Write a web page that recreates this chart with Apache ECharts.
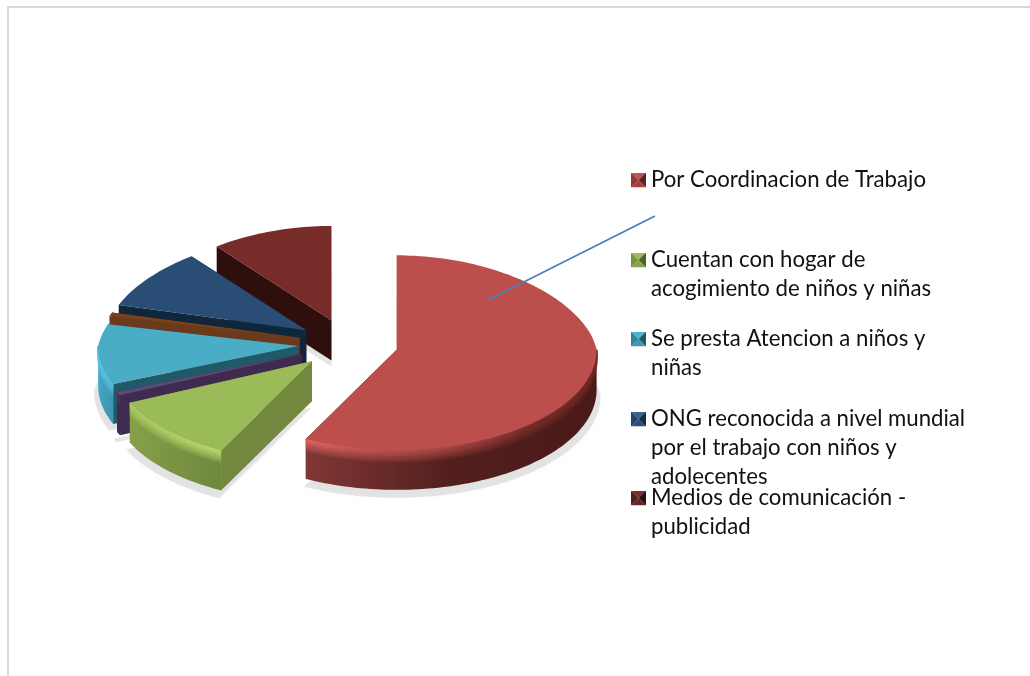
<!DOCTYPE html>
<html>
<head>
<meta charset="utf-8">
<style>
html, body { margin: 0; padding: 0; background: #fff; }
#chart { width: 1030px; height: 676px; }
</style>
</head>
<body>
<div id="chart"></div>
<script src="https://cdn.jsdelivr.net/npm/echarts@6/dist/echarts.min.js"></script>
<script>
// slices clockwise from 12 o'clock, two thin ones have no legend entry
const sliceNames = ['Por Coordinacion de Trabajo', 'Cuentan con hogar de acogimiento de niños y niñas', 'Sin etiqueta 1', 'Se presta Atencion a niños y niñas', 'Sin etiqueta 2', 'ONG reconocida a nivel mundial por el trabajo con niños y adolecentes', 'Medios de comunicación - publicidad'];
const sliceValues = [57.5, 10.7, 0.6, 9.9, 0.6, 10, 10.7];

const topColors = ['#bc4f4c', '#9bbb59', '#5f497a', '#4bacc6', '#7a4219', '#2a4d76', '#772c2a'];
const cutColors = ['#4a1a18', '#72883f', '#3f2a50', '#215968', '#6b3a1d', '#10263a', '#2f0f0e'];
const wallColors = [
    ['#803735', '#521f1d', '#4a1a18'],
    ['#86a04a', '#7a9343', '#70883d'],
    ['#3f2a50', '#3f2a50', '#3f2a50'],
    ['#45a8c8', '#3f9cb8', '#3b94ae'],
    ['#6b3a1d', '#6b3a1d', '#6b3a1d'],
    ['#10263a', '#10263a', '#10263a'],
    ['#2f0f0e', '#2f0f0e', '#2f0f0e']
];
const rimColors = [
    ['#e06666', '#c05250', '#a84644', '#7a2e2c', '#6a2624'],
    ['#a8c860', '#b4d268', '#bcdb70'],
    ['#4a3560', '#4a3560', '#4a3560'],
    ['#55c5e8', '#52c0e2', '#4fbad8'],
    ['#7a4219', '#7a4219', '#7a4219'],
    ['#2a4d76', '#2a4d76', '#2a4d76'],
    ['#772c2a', '#772c2a', '#772c2a']
];

const legendNames = [sliceNames[0], sliceNames[1], sliceNames[3], sliceNames[5], sliceNames[6]];
const legendLines = [
    ['Por Coordinacion de Trabajo'],
    ['Cuentan con hogar de', 'acogimiento de niños y niñas'],
    ['Se presta Atencion a niños y', 'niñas'],
    ['ONG reconocida a nivel mundial', 'por el trabajo con niños y', 'adolecentes'],
    ['Medios de comunicación -', 'publicidad']
];
// top, right, bottom, left triangle of the bevelled key
const legendKeys = [
    ['#c5514f', '#5c2321', '#a5403d', '#8f3b39'],
    ['#9bbb59', '#4f6329', '#86a54b', '#76933f'],
    ['#4bb4cf', '#215968', '#3f98b0', '#338399'],
    ['#3a6291', '#142c44', '#2c4f78', '#24426a'],
    ['#7a2e2c', '#2f0f0e', '#642624', '#541e1c']
];
const legendCenters = [180, 260, 339, 419, 498];

// stray leader line on the picture, in pie units
const leaderLine = [[0.7, 0.44], [1.535, 1.28]];

const explode = 0.25;
const depth = 0.4;
const backSquash = 0.945;
const backNarrow = 0.1;
const lineHeight = 29;

const total = sliceValues.reduce((a, b) => a + b, 0);
let acc = 0;
const sliceAngles = sliceValues.map(v => {
    const from = acc / total * 360;
    acc += v;
    return [from, acc / total * 360];
});

function rad(a) { return a * Math.PI / 180; }

function slicePoint(api, i, a, r, dz) {
    const [t0, t1] = sliceAngles[i];
    const mid = rad((t0 + t1) / 2);
    const c = Math.cos(rad(a));
    // far side of the pie is drawn a bit smaller
    const x = r * Math.sin(rad(a)) * (1 - backNarrow * Math.max(c, 0));
    const y = r * c * (c > 0 ? backSquash : 1);
    return api.coord([explode * Math.sin(mid) + x, explode * Math.cos(mid) + y - dz]);
}

function arcPoints(api, i, a0, a1, r, dz) {
    const pts = [];
    const steps = Math.max(2, Math.ceil((a1 - a0) / 1.5));
    for (let s = 0; s <= steps; s++) {
        pts.push(slicePoint(api, i, a0 + (a1 - a0) * s / steps, r, dz));
    }
    return pts;
}

function gradient(colors) {
    return new echarts.graphic.LinearGradient(0, 0, 1, 0, colors.map((c, k) => ({ offset: k / (colors.length - 1), color: c })));
}

function cutFace(api, i, a) {
    return {
        type: 'polygon',
        shape: { points: [slicePoint(api, i, 0, 0, 0), slicePoint(api, i, a, 1, 0), slicePoint(api, i, a, 1, depth), slicePoint(api, i, 0, 0, depth)] },
        style: { fill: cutColors[i] }
    };
}

function renderSlice(i) {
    return function (params, api) {
        const [t0, t1] = sliceAngles[i];
        const children = [cutFace(api, i, t0), cutFace(api, i, t1)];
        const a0 = Math.max(t0, 90);
        const a1 = Math.min(t1, 270);
        if (a1 > a0) {
            children.push({
                type: 'polygon',
                shape: { points: arcPoints(api, i, a0, a1, 1, 0).concat(arcPoints(api, i, a0, a1, 1, depth).reverse()) },
                style: { fill: gradient(wallColors[i]) }
            });
            // soft bevel under the rim, fades into the wall
            for (let k = 7; k >= 0; k--) {
                children.push({
                    type: 'polyline',
                    shape: { points: arcPoints(api, i, a0, a1, 1, k * 0.017) },
                    style: { fill: null, stroke: gradient(rimColors[i]), lineWidth: 2.2, opacity: 1 - k / 8 }
                });
            }
        }
        const topPts = [slicePoint(api, i, 0, 0, 0)].concat(arcPoints(api, i, t0, t1, 1, 0));
        children.push({ type: 'polygon', shape: { points: topPts }, style: { fill: topColors[i] } });
        return { type: 'group', children: children };
    };
}

function renderShadow(params, api) {
    const i = params.dataIndex;
    const [t0, t1] = sliceAngles[i];
    const pts = [slicePoint(api, i, 0, 0, depth + 0.06)].concat(arcPoints(api, i, t0, t1, 1.02, depth + 0.06));
    return {
        type: 'polygon',
        shape: { points: pts },
        style: { fill: 'rgba(0,0,0,0.1)', shadowBlur: 12, shadowColor: 'rgba(0,0,0,0.2)' }
    };
}

function keyIcon(c) {
    const svg = `<svg xmlns="http://www.w3.org/2000/svg" width="15" height="15">` +
        `<polygon points="0,0 15,0 7.5,7.5" fill="${c[0]}"/><polygon points="15,0 15,15 7.5,7.5" fill="${c[1]}"/>` +
        `<polygon points="15,15 0,15 7.5,7.5" fill="${c[2]}"/><polygon points="0,15 0,0 7.5,7.5" fill="${c[3]}"/></svg>`;
    return 'image://data:image/svg+xml;charset=utf-8,' + encodeURIComponent(svg);
}

const chart = echarts.init(document.getElementById('chart'));

const sliceSeries = sliceNames.map((name, i) => ({
    type: 'custom',
    name: name,
    coordinateSystem: 'cartesian2d',
    silent: true,
    animation: false,
    z: 3 + sliceNames.length - i,
    data: [[0, sliceValues[i]]],
    renderItem: renderSlice(i)
}));

const option = {
    animation: false,
    grid: { left: 28, width: 640, top: 184, height: 320 },
    xAxis: { type: 'value', min: -1.6, max: 1.6, show: false },
    yAxis: { type: 'value', min: -1.6, max: 1.6, show: false },
    legend: legendNames.map((name, i) => {
        const n = legendLines[i].length;
        return {
            data: [{ name: name, icon: keyIcon(legendKeys[i]) }],
            left: 631,
            top: legendCenters[i] - (2 * n - 1) * lineHeight / 2,
            padding: 0,
            itemWidth: 15,
            itemHeight: 15,
            selectedMode: false,
            // blank lines above keep the key level with the first text line
            formatter: () => '\n'.repeat(n - 1) + legendLines[i].join('\n'),
            textStyle: { fontFamily: 'Lato', fontSize: 22.2, lineHeight: lineHeight, color: '#111' }
        };
    }),
    graphic: [{
        type: 'polyline',
        silent: true,
        shape: { points: [[8, 676], [8, 7], [1030, 7]] },
        style: { fill: null, stroke: '#d9d9d9', lineWidth: 2 }
    }],
    series: [{
        type: 'custom',
        name: 'sombra',
        coordinateSystem: 'cartesian2d',
        silent: true,
        z: 1,
        data: sliceValues.map((v, i) => [i, v]),
        renderItem: renderShadow
    }].concat(sliceSeries, [{
        type: 'line',
        name: 'linea',
        silent: true,
        z: 20,
        symbol: 'none',
        clip: false,
        data: leaderLine,
        lineStyle: { color: '#4a7ebb', width: 1.8 }
    }])
};
chart.setOption(option);
</script>
</body>
</html>
